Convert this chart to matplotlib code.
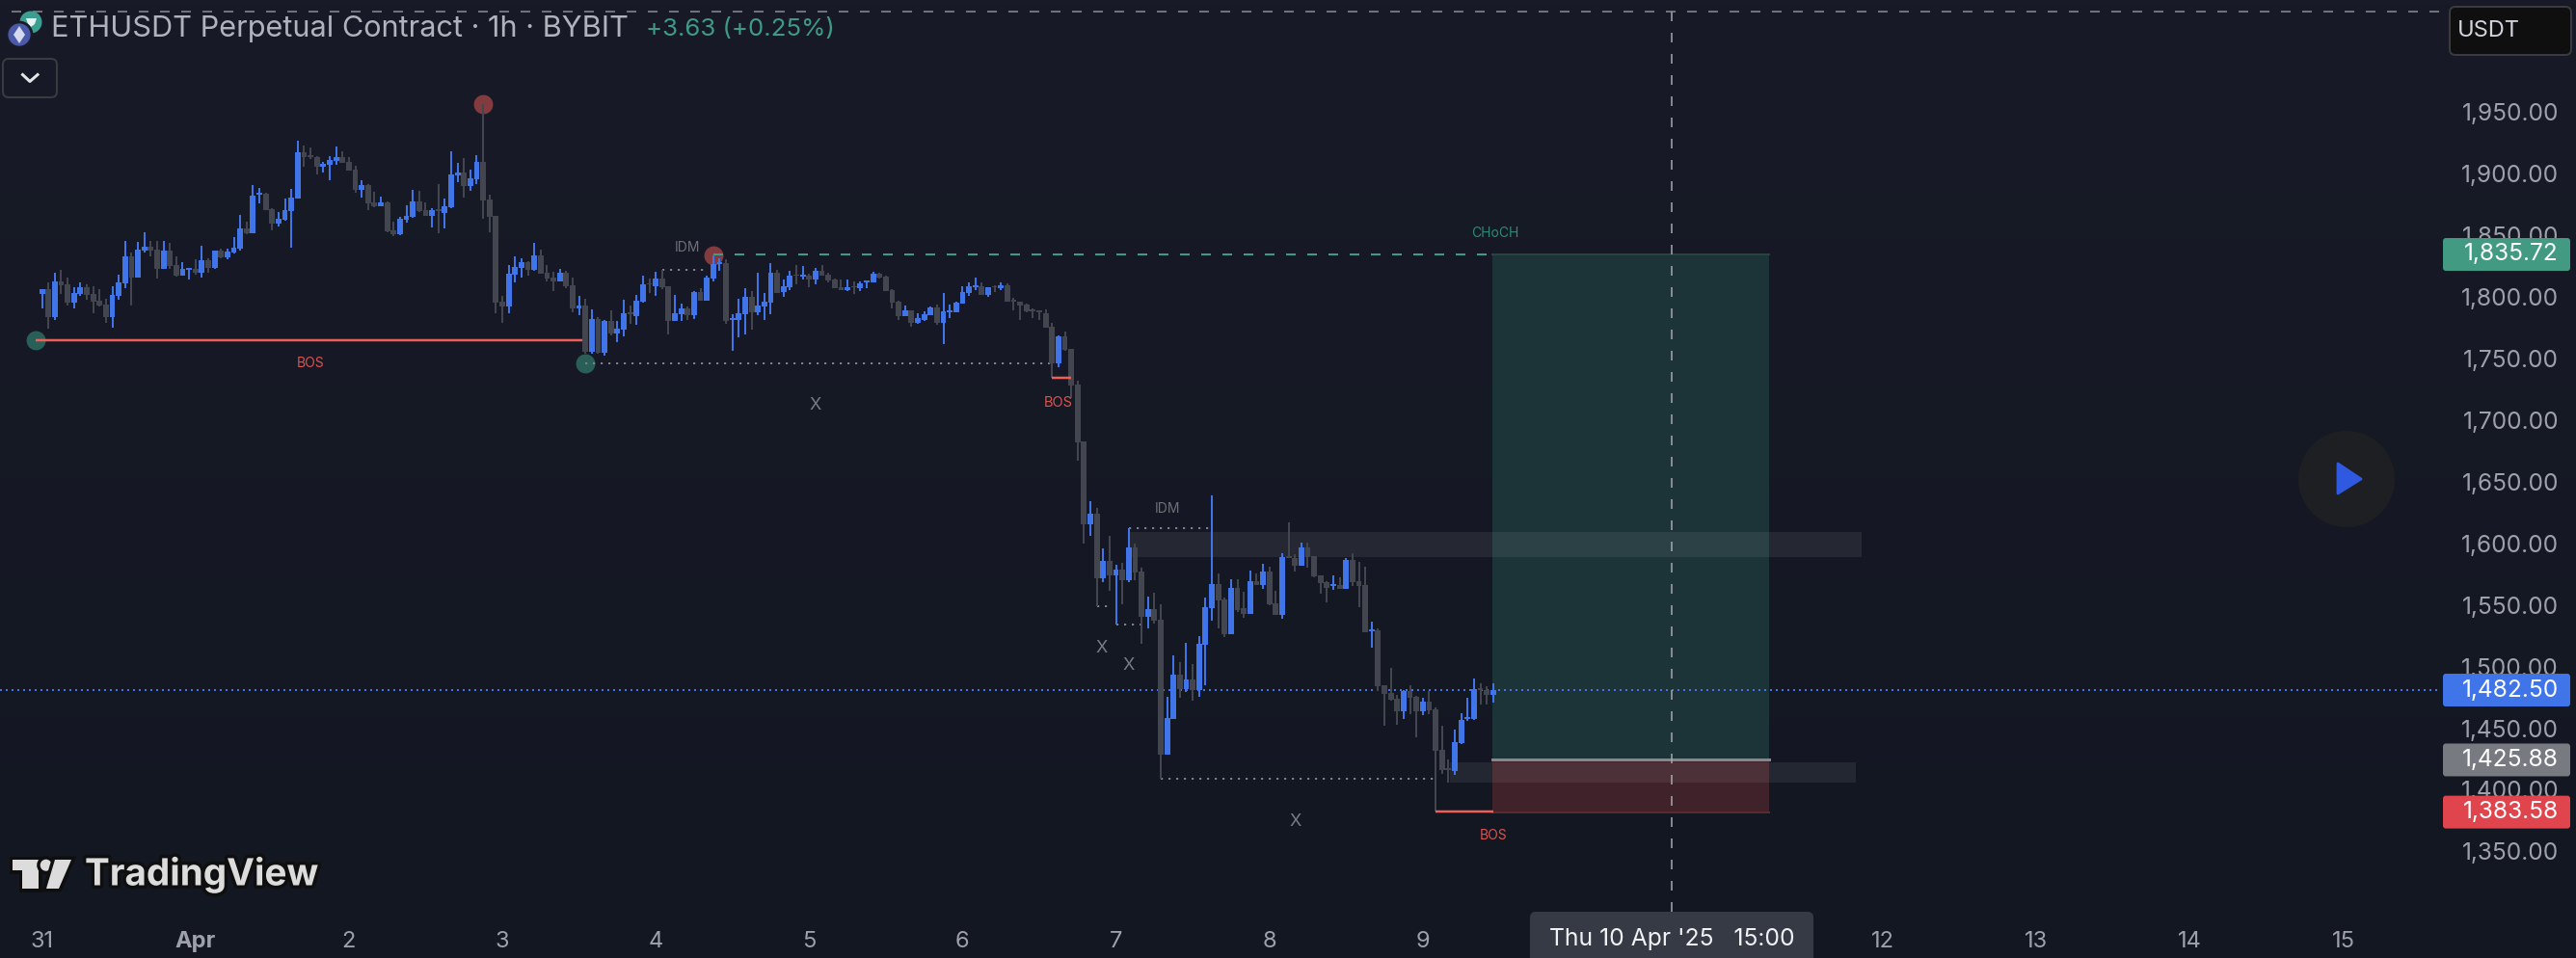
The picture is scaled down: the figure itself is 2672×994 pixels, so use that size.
import matplotlib
matplotlib.use("Agg")
import matplotlib.pyplot as plt
import matplotlib.patheffects as pe
from matplotlib.patches import Rectangle, Circle, Polygon, FancyBboxPatch
from matplotlib.transforms import blended_transform_factory
import numpy as np

plt.rcParams['font.family'] = ['Inter', 'DejaVu Sans']
plt.rcParams['lines.scale_dashes'] = False

# Hourly candles, index 0 = Mar 31 00:00
opens = [
    1803.6, 1807.5, 1784.9, 1813.8, 1811.5, 1796.6, 1803.6, 1809.1, 1803.6, 1798.2,
    1795.0, 1784.9, 1802.1, 1812.2, 1834.1, 1816.9, 1838.8, 1841.9, 1839.6, 1824.0,
    1838.8, 1827.1, 1818.5, 1823.2, 1824.0, 1820.8, 1831.0, 1824.7, 1838.8, 1833.3,
    1837.2, 1840.4, 1856.8, 1852.9, 1884.1, 1884.9, 1872.4, 1860.7, 1863.8, 1870.8,
    1881.0, 1918.5, 1916.2, 1914.6, 1906.8, 1908.4, 1911.5, 1914.6, 1910.7, 1904.5,
    1888.0, 1892.0, 1877.9, 1874.8, 1877.9, 1855.2, 1852.1, 1863.8, 1866.2, 1878.7,
    1871.6, 1867.0, 1872.4, 1869.3, 1874.0, 1899.8, 1902.1, 1891.2, 1896.6, 1910.7,
    1880.2, 1867.0, 1797.4, 1793.5, 1819.3, 1824.8, 1829.5, 1823.2, 1835.0, 1820.9,
    1817.0, 1813.9, 1820.9, 1810.7, 1792.0, 1794.3, 1756.8, 1783.4, 1756.0, 1781.8,
    1771.7, 1774.8, 1788.9, 1785.7, 1797.5, 1812.3, 1810.0, 1816.2, 1810.0, 1781.8,
    1787.3, 1792.0, 1786.5, 1805.3, 1798.2, 1816.2, 1827.9, 1828.7, 1782.6, 1782.6,
    1787.3, 1801.4, 1788.9, 1793.5, 1796.7, 1820.9, 1805.3, 1809.2, 1819.3, 1817.8,
    1818.5, 1815.4, 1822.5, 1819.3, 1815.4, 1809.2, 1806.8, 1810.0, 1808.4, 1813.1,
    1813.1, 1820.1, 1817.8, 1806.8, 1797.5, 1785.7, 1790.4, 1780.3, 1782.6, 1786.5,
    1792.8, 1780.3, 1788.9, 1788.9, 1795.9, 1804.5, 1809.2, 1810.0, 1802.9, 1810.0,
    1808.4, 1810.7, 1799.0, 1797.4, 1795.1, 1791.2, 1790.4, 1788.0, 1777.1, 1747.4,
    1769.3, 1759.1, 1730.2, 1684.1, 1616.9, 1625.5, 1573.2, 1587.2, 1575.5, 1580.2,
    1571.6, 1598.2, 1578.6, 1541.9, 1548.1, 1539.5, 1430.1, 1459.0, 1495.0, 1483.3,
    1491.1, 1482.5, 1519.2, 1548.9, 1568.5, 1556.0, 1527.8, 1565.3, 1548.9, 1544.2,
    1570.8, 1567.7, 1578.6, 1552.8, 1543.5, 1591.1, 1589.6, 1583.3, 1598.2, 1591.1,
    1575.5, 1570.0, 1566.9, 1567.7, 1564.6, 1588.0, 1570.8, 1567.7, 1530.2, 1530.9,
    1486.4, 1480.1, 1475.5, 1465.3, 1481.7, 1477.0, 1465.3, 1473.1, 1466.9, 1434.0,
    1419.2, 1416.8, 1439.5, 1459.0, 1459.0, 1484.1, 1482.5, 1478.6,
]
closes = [
    1807.5, 1784.9, 1813.8, 1810.7, 1796.6, 1804.4, 1809.1, 1802.9, 1797.4, 1794.3,
    1784.9, 1802.9, 1813.0, 1834.1, 1816.9, 1839.6, 1841.9, 1838.8, 1824.0, 1838.8,
    1826.3, 1818.5, 1824.0, 1824.7, 1820.8, 1831.0, 1824.7, 1838.8, 1833.3, 1838.0,
    1841.1, 1856.8, 1852.9, 1883.4, 1885.7, 1871.6, 1860.7, 1864.6, 1871.6, 1881.8,
    1918.5, 1914.6, 1914.6, 1906.8, 1909.1, 1912.3, 1914.6, 1909.9, 1903.7, 1888.0,
    1892.0, 1877.1, 1874.8, 1877.9, 1854.4, 1852.1, 1864.6, 1867.0, 1878.7, 1870.8,
    1867.0, 1871.6, 1870.8, 1874.8, 1900.5, 1902.1, 1891.2, 1897.4, 1910.7, 1879.4,
    1866.2, 1796.6, 1793.5, 1820.0, 1825.6, 1829.5, 1823.2, 1835.0, 1820.1, 1816.2,
    1813.9, 1820.9, 1810.0, 1792.0, 1794.3, 1756.8, 1783.4, 1756.0, 1781.8, 1771.7,
    1775.6, 1788.1, 1787.3, 1798.2, 1811.5, 1811.5, 1816.2, 1809.2, 1781.8, 1788.1,
    1792.0, 1786.5, 1805.3, 1798.2, 1817.0, 1827.9, 1829.5, 1781.8, 1784.2, 1788.1,
    1801.4, 1788.9, 1794.3, 1797.5, 1820.9, 1804.5, 1810.0, 1818.5, 1818.5, 1819.3,
    1815.4, 1822.5, 1818.5, 1814.6, 1808.4, 1806.8, 1809.2, 1809.2, 1812.3, 1814.6,
    1820.1, 1817.0, 1806.0, 1796.7, 1785.7, 1790.4, 1780.3, 1784.2, 1787.3, 1792.8,
    1780.3, 1789.6, 1790.4, 1796.7, 1805.3, 1810.0, 1810.7, 1802.9, 1809.2, 1809.2,
    1810.7, 1797.4, 1797.4, 1794.3, 1789.6, 1789.6, 1788.8, 1776.3, 1747.4, 1769.3,
    1758.4, 1729.4, 1683.3, 1616.9, 1625.5, 1573.2, 1587.2, 1575.5, 1580.2, 1571.6,
    1598.2, 1577.8, 1541.9, 1548.1, 1538.8, 1430.1, 1459.8, 1495.0, 1483.3, 1491.1,
    1482.5, 1520.0, 1549.7, 1568.5, 1555.2, 1527.8, 1565.3, 1547.4, 1544.2, 1570.8,
    1567.7, 1578.6, 1552.0, 1543.5, 1590.3, 1589.6, 1583.3, 1598.2, 1590.3, 1574.7,
    1569.2, 1565.3, 1568.5, 1564.6, 1588.0, 1570.0, 1566.9, 1529.4, 1531.7, 1485.6,
    1479.4, 1474.7, 1465.3, 1481.7, 1476.2, 1465.3, 1473.1, 1466.1, 1433.2, 1417.6,
    1417.6, 1440.3, 1458.3, 1460.6, 1483.3, 1482.5, 1478.6, 1482.5,
]
highs = [
    1807.5, 1813.0, 1820.8, 1823.2, 1816.9, 1809.1, 1813.0, 1811.5, 1809.9, 1807.5,
    1799.7, 1809.9, 1819.3, 1846.6, 1837.2, 1845.8, 1853.7, 1846.6, 1846.6, 1846.6,
    1845.1, 1834.1, 1829.4, 1824.7, 1831.8, 1842.7, 1832.6, 1838.8, 1840.4, 1840.4,
    1849.7, 1867.7, 1862.3, 1892.0, 1889.6, 1885.7, 1873.2, 1870.1, 1881.0, 1888.8,
    1927.9, 1924.0, 1922.4, 1915.4, 1910.7, 1915.4, 1923.2, 1919.3, 1914.6, 1907.6,
    1895.9, 1892.7, 1886.5, 1882.6, 1878.7, 1862.3, 1866.2, 1875.5, 1888.0, 1887.3,
    1877.9, 1873.2, 1892.7, 1881.0, 1919.3, 1909.9, 1913.8, 1904.5, 1916.2, 1957.6,
    1884.1, 1867.0, 1802.1, 1827.1, 1834.2, 1832.6, 1830.3, 1845.1, 1839.6, 1827.1,
    1821.7, 1824.0, 1822.5, 1817.0, 1802.1, 1799.8, 1791.2, 1785.0, 1782.6, 1790.4,
    1781.8, 1799.0, 1794.3, 1802.9, 1818.5, 1816.2, 1821.7, 1823.2, 1810.0, 1802.9,
    1795.9, 1793.5, 1806.0, 1808.4, 1818.5, 1835.0, 1832.6, 1831.8, 1787.3, 1799.8,
    1808.4, 1806.0, 1820.9, 1804.5, 1828.7, 1823.2, 1815.4, 1822.5, 1827.1, 1826.4,
    1820.1, 1824.8, 1827.1, 1820.9, 1816.2, 1815.4, 1815.4, 1813.9, 1813.9, 1814.6,
    1821.7, 1820.9, 1818.5, 1807.6, 1798.2, 1794.3, 1790.4, 1788.1, 1789.6, 1793.5,
    1795.1, 1804.5, 1795.1, 1797.5, 1810.0, 1813.1, 1817.0, 1813.1, 1809.2, 1810.7,
    1813.1, 1812.3, 1800.6, 1797.4, 1795.9, 1792.0, 1790.4, 1791.2, 1780.2, 1770.1,
    1773.2, 1759.1, 1733.4, 1684.1, 1635.7, 1630.2, 1597.4, 1607.5, 1584.1, 1585.7,
    1613.8, 1601.3, 1581.7, 1558.3, 1561.4, 1552.0, 1477.0, 1510.6, 1505.2, 1520.8,
    1503.6, 1526.2, 1557.5, 1640.4, 1577.0, 1557.5, 1572.4, 1572.4, 1562.2, 1579.4,
    1577.0, 1584.9, 1582.5, 1563.0, 1593.5, 1618.5, 1592.7, 1602.1, 1602.1, 1591.1,
    1575.5, 1570.8, 1575.5, 1573.9, 1589.6, 1593.5, 1586.4, 1582.5, 1538.0, 1532.5,
    1486.4, 1500.5, 1478.6, 1482.5, 1486.4, 1477.8, 1476.2, 1481.7, 1468.4, 1453.6,
    1426.2, 1450.5, 1463.7, 1476.2, 1491.9, 1488.0, 1485.6, 1488.0,
]
lows = [
    1791.9, 1775.8, 1782.5, 1803.6, 1794.3, 1791.9, 1802.1, 1799.0, 1788.0, 1793.5,
    1780.2, 1776.3, 1799.0, 1808.3, 1794.3, 1816.9, 1837.2, 1834.1, 1816.1, 1824.0,
    1824.0, 1817.7, 1818.5, 1815.4, 1819.3, 1816.9, 1820.8, 1824.0, 1832.6, 1831.8,
    1836.5, 1838.8, 1852.1, 1852.9, 1877.1, 1871.6, 1855.2, 1858.3, 1863.0, 1841.1,
    1881.0, 1906.8, 1913.0, 1900.5, 1902.1, 1895.9, 1908.4, 1909.9, 1903.7, 1885.7,
    1881.8, 1871.6, 1874.0, 1874.8, 1853.7, 1850.5, 1851.3, 1861.5, 1865.4, 1870.1,
    1867.0, 1857.6, 1852.9, 1856.8, 1873.2, 1894.3, 1881.8, 1887.3, 1892.7, 1864.6,
    1853.7, 1788.0, 1780.2, 1788.0, 1813.1, 1817.0, 1818.5, 1822.5, 1820.1, 1813.9,
    1806.0, 1813.9, 1808.4, 1788.9, 1786.5, 1755.2, 1755.2, 1755.2, 1753.7, 1770.1,
    1764.6, 1769.3, 1779.5, 1778.7, 1796.7, 1804.5, 1802.1, 1807.6, 1770.9, 1781.8,
    1781.8, 1782.6, 1783.4, 1798.2, 1798.2, 1813.9, 1822.5, 1779.5, 1757.6, 1768.5,
    1770.9, 1774.8, 1786.5, 1782.6, 1787.3, 1804.5, 1801.4, 1806.8, 1811.5, 1815.4,
    1809.2, 1811.5, 1818.5, 1813.1, 1808.4, 1806.8, 1806.0, 1803.7, 1806.0, 1808.4,
    1813.1, 1816.2, 1806.0, 1792.0, 1782.6, 1785.7, 1777.1, 1779.5, 1781.8, 1786.5,
    1778.7, 1763.1, 1784.2, 1788.9, 1795.9, 1802.1, 1806.8, 1802.9, 1801.3, 1805.2,
    1806.8, 1797.4, 1790.4, 1782.6, 1788.8, 1784.1, 1782.6, 1776.3, 1735.7, 1744.3,
    1757.6, 1719.3, 1668.5, 1601.3, 1607.5, 1550.5, 1570.0, 1563.0, 1535.6, 1552.0,
    1570.0, 1571.6, 1520.0, 1532.5, 1536.4, 1410.5, 1430.1, 1459.0, 1476.2, 1480.9,
    1473.9, 1477.0, 1486.4, 1538.8, 1532.5, 1525.5, 1527.8, 1545.8, 1541.1, 1544.2,
    1567.7, 1564.6, 1551.3, 1543.5, 1540.3, 1589.6, 1578.6, 1583.3, 1581.7, 1573.9,
    1560.6, 1553.6, 1563.8, 1564.6, 1564.6, 1566.9, 1549.7, 1529.4, 1516.9, 1481.7,
    1453.6, 1473.9, 1454.4, 1459.0, 1463.0, 1444.2, 1462.2, 1463.0, 1384.0, 1414.5,
    1407.5, 1413.7, 1438.7, 1457.5, 1458.3, 1470.8, 1470.8, 1472.3,
]

priceTicks = [1950, 1900, 1850, 1800, 1750, 1700, 1650, 1600, 1550, 1500, 1450, 1400, 1350]
dayLabels = ['31', 'Apr', '2', '3', '4', '5', '6', '7', '8', '9', '12', '13', '14', '15']
dayOffsets = [0, 1, 2, 3, 4, 5, 6, 7, 8, 9, 12, 13, 14, 15]

lastPrice = 1482.50
targetPrice = 1835.72
entryPrice = 1425.88
stopPrice = 1383.58
crossBar = 255
crossPrice = 2032.6

# Structure marks: (bar, price)
swingHighs = [(69, 1957.6), (105, 1834.9)]
swingLows = [(-1, 1766.4), (85, 1747.4)]
bosLines = [(-1, 84.5, 1766.4), (158, 161, 1735.9), (218, 227, 1384.0)]
dottedLines = [(85, 158, 1747.4), (97, 104, 1823.2), (170, 183, 1613.8),
               (165, 167, 1550.5), (168, 172, 1535.6), (175, 218, 1410.5)]
zones = [(170.1, 284.7, 1590.6, 1610.7), (220.2, 283.8, 1407.5, 1423.9)]
boxStart = 226.9
boxEnd = 270.2

BG_TOP = '#181b27'
BG_BOT = '#131722'
BLUE = '#3f75e9'
GREY = '#43464f'
RED = '#ef5f58'
TEAL = '#429a82'
PX = 0.72

fig = plt.figure(figsize=(26.72, 9.94), dpi=100)
ax = fig.add_axes([0, 0, 1, 1])
ui = fig.add_axes([0, 0, 1, 1], zorder=5)
ax.set_xlim(-6.576, 396.4)
ax.set_ylim(1265.3, 2042.0)
ax.axis('off')
ui.set_xlim(0, 2672)
ui.set_ylim(994, 0)
ui.axis('off')
ui.patch.set_alpha(0)

# background
ax.imshow(np.linspace(0, 1, 256).reshape(-1, 1),
          extent=(-6.576, 396.4, 1265.3, 2042.0), aspect='auto', zorder=0,
          cmap=matplotlib.colors.LinearSegmentedColormap.from_list('bg', [BG_TOP, BG_BOT]))

# position box and zones
ax.add_patch(Rectangle((boxStart, entryPrice), boxEnd - boxStart, targetPrice - entryPrice,
                       fc='#1c3338', ec='none', zorder=1))
ax.add_patch(Rectangle((boxStart, stopPrice), boxEnd - boxStart, entryPrice - stopPrice,
                       fc='#40222b', ec='none', zorder=1))
ax.plot([boxStart, boxEnd], [entryPrice, entryPrice], color='#85878c', lw=3 * PX, zorder=2)
ax.plot([boxStart, boxEnd], [targetPrice, targetPrice], color='#24463f', lw=2 * PX, zorder=2)
ax.plot([boxStart, boxEnd], [stopPrice, stopPrice], color='#5e2a2f', lw=2 * PX, zorder=2)
for x0, x1, y0, y1 in zones:
    ax.add_patch(Rectangle((x0, y0), x1 - x0, y1 - y0, fc='white', alpha=0.07, ec='none', zorder=2))

# last price line
ax.plot([-6.576, (2531 - 43.6) / 6.63], [lastPrice, lastPrice], color=BLUE, lw=2 * PX,
        ls=(0, (2 * PX, 4 * PX)), zorder=2.5)

# swing markers
ax.scatter(*zip(*swingHighs), s=205, color='#843b3f', linewidths=0, zorder=3)
ax.scatter(*zip(*swingLows), s=205, color='#2a5f58', linewidths=0, zorder=3)

# candles
o = np.array(opens)
c = np.array(closes)
h = np.array(highs)
l = np.array(lows)
bars = np.arange(len(o))
colors = [BLUE if cl >= op else GREY for op, cl in zip(o, c)]
ax.vlines(bars, l, h, colors=colors, lw=2 * PX, zorder=4)
ax.bar(bars, np.abs(c - o), bottom=np.minimum(o, c), width=0.88, color=colors, linewidth=0, zorder=4)

# structure lines
for x0, x1, y in bosLines:
    ax.plot([x0, x1], [y, y], color=RED, lw=2.5 * PX, solid_capstyle='butt', zorder=5)
for x0, x1, y in dottedLines:
    ax.plot([x0, x1], [y, y], color='#7f8085', lw=2 * PX, ls=(0, (2.2 * PX, 5.8 * PX)), zorder=3.5)
ax.plot([105, boxStart], [targetPrice, targetPrice], color='#3f9b85', lw=2 * PX,
        ls=(0, (10 * PX, 12 * PX)), zorder=5)

# crosshair
ax.plot([crossBar, crossBar], [1265.3 + 48 / 1.2797, 2042.0], color='#a9abb1', lw=1.5 * PX,
        ls=(0, (10 * PX, 12 * PX)), zorder=6)
ax.plot([-4.8, (2530 - 43.6) / 6.63], [crossPrice, crossPrice], color='#8e9096', lw=1.5 * PX,
        ls=(0, (10 * PX, 12 * PX)), zorder=6)

# chart labels
ax.text(42, 1747.4, 'BOS', color='#d9534f', fontsize=10, ha='center', va='center', zorder=7)
ax.text(159, 1715.6, 'BOS', color='#d9534f', fontsize=10.5, ha='center', va='center', zorder=7)
ax.text(227, 1364.5, 'BOS', color='#d9534f', fontsize=10, ha='center', va='center', zorder=7)
ax.text(101, 1841.0, 'IDM', color='#6f7076', fontsize=10, ha='center', va='center', zorder=7)
ax.text(176, 1629.2, 'IDM', color='#6f7076', fontsize=10, ha='center', va='center', zorder=7)
ax.text(227.3, 1853.0, 'CHoCH', color='#2f8a76', fontsize=10, ha='center', va='center', zorder=7)
for x, y in [(120.9, 1713.8), (165.8, 1516.4), (170.0, 1502.6), (196.0, 1376.2)]:
    ax.text(x, y, 'X', color='#7b7c82', fontsize=13, ha='center', va='center', zorder=7)

# price axis
yTrans = blended_transform_factory(ui.transData, ax.transData)
xTrans = blended_transform_factory(ax.transData, ui.transData)
for p in priceTicks:
    ax.text(2654, p - 0.3, f'{p:,.2f}', transform=yTrans, color='#9fa1aa', fontsize=17.6,
            ha='right', va='center', zorder=7)

tagColors = [TEAL, BLUE, '#787a82', '#e0454d']
tagPrices = [targetPrice, lastPrice, entryPrice, stopPrice]
for p, col in zip(tagPrices, tagColors):
    yc = 264 + (targetPrice - p) * 1.2797
    ui.add_patch(FancyBboxPatch((2534, yc - 17), 132, 34, boxstyle='round,pad=0,rounding_size=3',
                                fc=col, ec='none', zorder=8))
    ui.text(2654, yc, f'{p:,.2f}', color='white', fontsize=17.6, ha='right', va='center', zorder=9)

# date axis
for lab, d in zip(dayLabels, dayOffsets):
    ax.text(d * 24, 977, lab, transform=xTrans, color='#9fa1aa', fontsize=17,
            fontweight='bold' if lab == 'Apr' else 'normal', ha='center', va='center', zorder=7)
ui.add_patch(FancyBboxPatch((1587, 946), 294, 60, boxstyle='round,pad=0,rounding_size=6',
                            fc='#363a45', ec='none', zorder=8))
ui.text(1734, 975, "Thu 10 Apr '25   15:00", color='#f0f1f3', fontsize=17.8, ha='center', va='center', zorder=9)

# header
ui.add_patch(Circle((32, 23), 11.5, fc='#3c9e91', ec='none', zorder=2))
ui.add_patch(Polygon([(27, 19), (38, 19), (36, 25), (32, 28), (29, 25)], fc='#e6f2f0', ec='none', zorder=2))
ui.add_patch(Circle((20, 36), 13, fc='#4a5aa8', ec='#181b27', lw=2, zorder=3))
ui.add_patch(Polygon([(20, 27), (26, 36), (20, 45), (14, 36)], fc='#d5d9ee', ec='none', zorder=4))
ui.text(53, 30, 'ETHUSDT Perpetual Contract · 1h · BYBIT', color='#b0b3bb', fontsize=22.1, ha='left', va='center')
ui.text(670, 30, '+3.63 (+0.25%)', color='#3f9b85', fontsize=18.6, ha='left', va='center')
ui.add_patch(FancyBboxPatch((3, 61), 56, 40, boxstyle='round,pad=0,rounding_size=6',
                            fc='none', ec='#3a3b3f', lw=2 * PX))
ui.plot([23.5, 31, 39], [77.5, 84.5, 77.5], color='#e6e6e6', lw=3 * PX)

# currency box
ui.add_patch(FancyBboxPatch((2541, 7), 126, 50, boxstyle='round,pad=0,rounding_size=6',
                            fc='#0f0f0f', ec='#3a3b3f', lw=2 * PX))
ui.text(2549, 32, 'USDT', color='#d1d4dc', fontsize=17, ha='left', va='center')

# play button
ui.add_patch(Circle((2434, 497), 50, fc='#1e1f22', ec='none'))
ui.add_patch(Polygon([(2425, 481), (2449, 497), (2425, 512)], fc='#2f59e0', ec='#2f59e0', lw=2, joinstyle='round'))

# TradingView logo
stroke = [pe.withStroke(linewidth=5, foreground='#0f0f0f')]
tvParts = [
    Polygon([(13, 892), (40, 892), (40, 922), (23, 922), (23, 903), (13, 903)], fc='#dcdcdc', ec='none'),
    Circle((47.7, 897.7), 6, fc='#dcdcdc', ec='none'),
    Polygon([(57, 892), (74, 892), (61, 922), (48, 922)], fc='#dcdcdc', ec='none'),
]
for part in tvParts:
    part.set_path_effects([pe.withStroke(linewidth=5, foreground='#0f0f0f')])
    ui.add_patch(part)
ui.text(88, 908, 'TradingView', color='#dcdcdc', fontsize=27.8, fontweight='bold', ha='left', va='center',
        path_effects=stroke)

fig.savefig('out.png', dpi=100)
